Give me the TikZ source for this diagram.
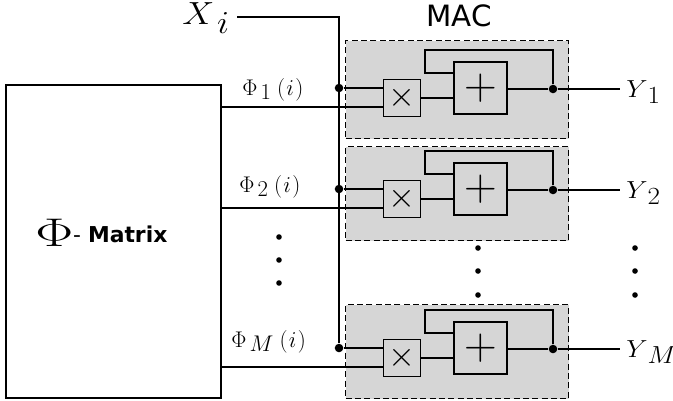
\documentclass[tikz,border=0pt]{standalone}
\usepackage{amsmath}
\usepackage{fix-cm}
\usepackage{graphicx}
\usepackage{fontspec}
\newfontfamily\labelfont{DejaVu Sans}
\usepackage{tikz}
\usetikzlibrary{calc}

\tikzset{
  wire/.style={line width=0.85pt},
  macbox/.style={draw, dash pattern=on 4.5pt off 2.5pt, fill=black!16, line width=0.95pt, inner sep=0pt},
  mulbox/.style={draw, line width=0.75pt, fill=black!16, minimum width=27.75pt, minimum height=27.75pt, inner sep=0pt},
  addbox/.style={draw, line width=1pt, fill=black!16, minimum width=39.75pt, minimum height=39pt, inner sep=0pt},
  junction/.style={circle, fill=black, inner sep=0pt, minimum size=6.4pt},
  smalldot/.style={circle, fill=black, inner sep=0pt, minimum size=4.2pt},
  mathlabel/.style={anchor=base west, inner sep=0pt},
}
\newcommand{\mathsz}[2]{\fontsize{#1}{#1}\selectfont$#2$}
\newcommand{\lowsub}[2]{\lower#1\hbox{$\textstyle#2$}}

\begin{document}
\begin{tikzpicture}[x=0.75pt, y=-0.75pt]
  \useasboundingbox (0,0) rectangle (673,400);

  % Nodes
  \node[draw, line width=1pt, minimum width=161.25pt, minimum height=234.75pt, inner sep=0pt] (matrix) at (113.5,241.5) {};
  \node[mathlabel] (matrixlabel) at (35,246) {\scalebox{1.42}[1]{\mathsz{30}{\Phi}}\raisebox{3pt}{\labelfont\fontsize{16.4}{16.4}\selectfont - \textbf{Matrix}}};
  \node[mathlabel] (xi) at (182,24) {\scalebox{1.12}[1]{\mathsz{24}{X\kern2pt\lowsub{6.75pt}{i}}}};
  \node[mathlabel] (mac) at (426,26) {\labelfont\fontsize{22}{22}\selectfont MAC};
  \coordinate (xistart) at (237,17);
  \coordinate (buscorner) at (339,17);

  \foreach \m/\s/\o/\t/\b/\px/\py in {1/1/0/40/138/242/95,2/2/101/146/240/239/192,3/M/260/304/398/231/347}{
    \node[macbox, minimum width=167.25pt, minimum height={(\b-\t)*0.75pt}, anchor=north west] (mac\m) at (345,\t) {};
    \node[mulbox] (mul\m) at (401.5,98+\o) {\mathsz{26}{\times}};
    \node[addbox] (add\m) at (480.5,88+\o) {\mathsz{34}{+}};
    \node[junction] (in\m) at (339,88+\o) {};
    \node[junction] (out\m) at (553,89+\o) {};
    \coordinate (phi\m) at (221,107+\o);
    \coordinate (fbtop\m) at (553,50+\o);
    \coordinate (fbleft\m) at (425,50+\o);
    \coordinate (fbin\m) at (425,73+\o);
    \coordinate (yend\m) at (620,89+\o);
    \node[mathlabel] (philabel\m) at (\px,\py) {\mathsz{17}{\Phi\kern2.5pt\lowsub{3.2pt}{\s}\kern4.5pt(\kern1pt i\kern1pt)}};
    \node[mathlabel] (y\m) at (626,97+\o) {\scalebox{1.1}[1]{\mathsz{18.5}{Y\lowsub{5.2pt}{\s}}}};
  }
  \foreach \i/\y in {1/237,2/260,3/283}
    \node[smalldot] (ldot\i) at (279,\y) {};
  \foreach \i/\y in {1/248,2/271,3/295}{
    \node[smalldot] (mdot\i) at (478,\y) {};
    \node[smalldot] (rdot\i) at (635,\y) {};
  }

  % Wires
  \draw[wire] (xistart) -- (buscorner) -- (in3);
  \foreach \m in {1,2,3}{
    \draw[wire] (in\m) -- (in\m -| mul\m.west);
    \draw[wire] (phi\m) -- (phi\m -| mul\m.west);
    \draw[wire] (mul\m.east) -- (mul\m.east -| add\m.west);
    \draw[wire] (add\m.east |- out\m) -- (out\m);
    \draw[wire] (out\m) -- (yend\m);
    \draw[wire] (out\m) -- (fbtop\m) -- (fbleft\m) -- (fbin\m) -- (fbin\m -| add\m.west);
  }
\end{tikzpicture}
\end{document}
